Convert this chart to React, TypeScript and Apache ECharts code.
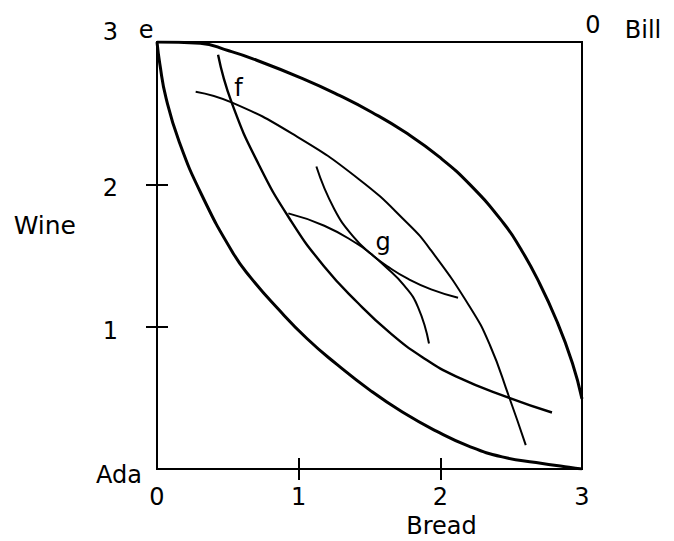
import React, { useEffect, useRef } from 'react';
import * as echarts from 'echarts';

// ---- data (Bread on x, Wine on y, Ada's origin bottom-left, Bill's top-right) ----
const adaOuter: [number, number][] = [
  [0, 3], [0.02, 2.845], [0.064, 2.605], [0.156, 2.301], [0.316, 1.925], [0.535, 1.52],
  [0.663, 1.343], [0.851, 1.129], [1.06, 0.915], [1.27, 0.735], [1.5, 0.556], [1.732, 0.4],
  [1.972, 0.266], [2.204, 0.159], [2.437, 0.085], [2.676, 0.046], [2.908, 0.012], [3, 0],
];
const billOuter: [number, number][] = [
  [0, 3], [0.305, 2.992], [0.501, 2.94], [0.677, 2.882], [1.028, 2.743], [1.287, 2.625],
  [1.519, 2.505], [1.75, 2.367], [1.988, 2.196], [2.218, 1.989], [2.448, 1.725], [2.566, 1.549],
  [2.684, 1.337], [2.822, 1.04], [2.932, 0.745], [3, 0.493],
];
const adaF: [number, number][] = [
  [0.431, 2.91], [0.526, 2.577], [0.719, 2.138], [0.948, 1.74], [1.177, 1.427], [1.415, 1.17],
  [1.645, 0.956], [1.876, 0.784], [2.114, 0.649], [2.486, 0.5], [2.788, 0.397],
];
const billF: [number, number][] = [
  [0.273, 2.651], [0.526, 2.576], [0.954, 2.356], [1.423, 2.038], [1.772, 1.723], [1.932, 1.539],
  [2.211, 1.135], [2.349, 0.873], [2.486, 0.504], [2.603, 0.168],
];
const adaG: [number, number][] = [
  [1.125, 2.125], [1.251, 1.827], [1.392, 1.625], [1.512, 1.51], [1.632, 1.42], [1.773, 1.335],
  [1.935, 1.262], [2.125, 1.203],
];
const billG: [number, number][] = [
  [0.927, 1.796], [1.181, 1.709], [1.42, 1.578], [1.512, 1.51], [1.604, 1.43], [1.744, 1.29],
  [1.843, 1.136], [1.92, 0.882],
];

const xTickValues = [1, 2];
const xLabelValues = [0, 1, 2, 3];
const yTickValues = [1, 2];
const yLabelValues = [1, 2, 3];

const pointNames = ['e', 'f', 'g', 'Ada', '0', 'Bill'];
const pointCoords: [number, number][] = [[0, 3], [0.526, 2.577], [1.512, 1.51], [0, 0], [3, 3], [3, 3]];

// ---- styling ----
const FONT = 'DejaVu Sans';
const BLACK = '#000000';
const labelOffsets: [number, number][] = [[-11, -12], [7, -14], [12, -12], [-38, 6], [11, -17], [61, -12]];

function lineSeries(name: string, data: [number, number][], width: number) {
  return {
    name,
    type: 'line',
    data,
    smooth: 0.5,
    symbol: 'none',
    showSymbol: false,
    silent: true,
    lineStyle: { color: BLACK, width },
    z: 3,
  };
}

const tickStyle = { color: BLACK, width: 2 };

export default function App() {
  const ref = useRef<HTMLDivElement>(null);
  useEffect(() => {
    const chart = echarts.init(ref.current!, null, { renderer: 'svg' });
    const option: any = {
      animation: false,
      backgroundColor: '#ffffff',
      grid: {
        left: 157, top: 42, width: 425, height: 427,
        outerBoundsMode: 'none', containLabel: false,
        show: true, borderColor: BLACK, borderWidth: 2, backgroundColor: 'transparent',
      },
      xAxis: [
        {
          type: 'value', min: 0, max: 3, position: 'bottom',
          axisLine: { show: true, onZero: false, lineStyle: { color: BLACK, width: 2 } },
          axisTick: { show: true, customValues: xTickValues, length: 11, inside: false, lineStyle: tickStyle },
          axisLabel: { show: true, customValues: xLabelValues, margin: 16, fontSize: 24, color: BLACK, fontFamily: FONT },
          splitLine: { show: false },
          name: 'Bread', nameLocation: 'middle', nameGap: 46,
          nameTextStyle: { fontSize: 24, lineHeight: 20, color: BLACK, fontFamily: FONT, padding: [0, 0, 0, 144] },
        },
        {
          type: 'value', min: 0, max: 3, position: 'bottom',
          axisLine: { show: false, onZero: false },
          axisTick: { show: true, customValues: xTickValues, length: 11, inside: true, lineStyle: tickStyle },
          axisLabel: { show: false },
          splitLine: { show: false },
        },
      ],
      yAxis: [
        {
          type: 'value', min: 0, max: 3, position: 'left',
          axisLine: { show: true, onZero: false, lineStyle: { color: BLACK, width: 2 } },
          axisTick: { show: true, customValues: yTickValues, length: 11, inside: false, lineStyle: tickStyle },
          axisLabel: {
            show: true, customValues: yLabelValues, margin: 39, fontSize: 24, color: BLACK, fontFamily: FONT,
            formatter: (v: number) => (v === 3 ? '{hi|3}' : '{lo|' + v + '}'),
            rich: {
              hi: { fontSize: 24, color: BLACK, fontFamily: FONT, padding: [0, 0, 20, 0] },
              lo: { fontSize: 24, color: BLACK, fontFamily: FONT, padding: [8, 0, 0, 0] },
            },
          },
          splitLine: { show: false },
          name: 'Wine', nameLocation: 'middle', nameRotate: 0, nameGap: 81,
          nameTextStyle: { fontSize: 25, color: BLACK, fontFamily: FONT, align: 'right', verticalAlign: 'bottom', lineHeight: 60 },
        },
        {
          type: 'value', min: 0, max: 3, position: 'left',
          axisLine: { show: false, onZero: false },
          axisTick: { show: true, customValues: yTickValues, length: 11, inside: true, lineStyle: tickStyle },
          axisLabel: { show: false },
          splitLine: { show: false },
        },
      ],
      series: [
        lineSeries('Ada through e', adaOuter, 3),
        lineSeries('Bill through e', billOuter, 3),
        lineSeries('Ada through f', adaF, 2.4),
        lineSeries('Bill through f', billF, 2),
        lineSeries('Ada through g', adaG, 2),
        lineSeries('Bill through g', billG, 2),
        {
          name: 'points',
          type: 'scatter',
          silent: true,
          symbolSize: 0,
          itemStyle: { color: BLACK },
          data: pointCoords.map((c, i) => ({
            value: c,
            name: pointNames[i],
            label: { offset: labelOffsets[i], color: BLACK },
          })),
          label: {
            show: true,
            position: 'inside',
            formatter: (p: any) => p.name,
            fontSize: 24,
            color: BLACK,
            opacity: 1,
            textBorderWidth: 0,
            fontFamily: FONT,
            align: 'center',
            verticalAlign: 'middle',
          },
          z: 5,
        },
      ],
    };
    chart.setOption(option);
    return () => chart.dispose();
  }, []);
  return (
    <div
      ref={ref}
      style={{ position: 'fixed', left: 0, top: 0, width: 674, height: 541, background: '#fff' }}
    />
  );
}
